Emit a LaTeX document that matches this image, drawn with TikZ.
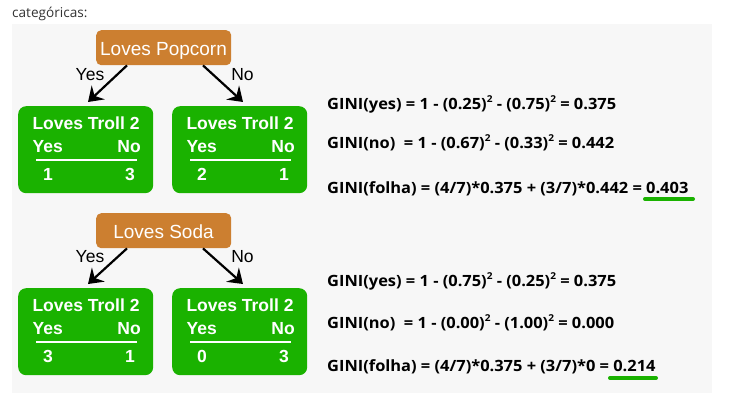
\documentclass[tikz,border=0pt]{standalone}
\usepackage{fontspec}
\setmainfont{Liberation Sans}
\newfontfamily\formfont[FakeStretch=1.06]{Open Sans}
\newfontfamily\capfont{Open Sans}
\usetikzlibrary{arrows.meta}
\definecolor{panelgray}{HTML}{F7F7F7}
\definecolor{leafgreen}{RGB}{26,178,0}
\definecolor{rootorange}{RGB}{204,127,48}
\definecolor{captiongray}{HTML}{333333}
\tikzset{
  leaf/.style={fill=leafgreen, rounded corners=8pt, inner sep=0pt, anchor=north west, minimum width=135pt, minimum height=87pt},
  root/.style={fill=rootorange, rounded corners=5pt, inner sep=0pt, anchor=north west, minimum width=135pt, minimum height=35pt},
  roottext/.style={text=white, inner sep=0pt, anchor=base, font=\fontsize{19}{19}\selectfont},
  leaftitle/.style={text=white, inner sep=0pt, font=\bfseries\fontsize{17.5}{17.5}\selectfont},
  leafnum/.style={text=white, inner sep=0pt, anchor=base, font=\bfseries\fontsize{17.5}{17.5}\selectfont},
  edgelabel/.style={inner sep=0pt, font=\fontsize{17.5}{17.5}\selectfont},
  arr/.style={line width=2.2pt, -{Stealth[length=14pt, width=19pt, inset=5pt]}},
  formula/.style={inner sep=0pt, anchor=base west, font=\formfont\bfseries\fontsize{15.5}{15.5}\selectfont},
  uline/.style={leafgreen, line width=4pt, line cap=round},
}
\newcommand\sqd{\raisebox{0.42em}{\fontsize{9.5}{9.5}\selectfont 2}}
\newcommand\leafbox[5]{%
  \node[leaf] (#1) at (#2,#3) {};
  \node[leaftitle, anchor=base] (#1t) at (#2+68,#3+23) {Loves Troll 2};
  \node[leaftitle, anchor=base west] (#1y) at (#2+14.5,#3+46) {Yes};
  \node[leaftitle, anchor=base east] (#1n) at (#2+123,#3+46) {No};
  \draw[white, line width=2pt] (#2+18,#3+53.5) -- (#2+119,#3+53.5);
  \node[leafnum] (#1a) at (#2+30,#3+74) {#4};
  \node[leafnum] (#1b) at (#2+112,#3+74) {#5};
}
\begin{document}
\begin{tikzpicture}[x=1pt, y=-1pt]
\useasboundingbox (0,0) rectangle (733,418);
\fill[panelgray] (12,24) rectangle (712,393);
\node[inner sep=0pt, anchor=base west, text=captiongray, font=\capfont\fontsize{13.6}{13.6}\selectfont] (cap) at (12,17) {categóricas:};

% ---- tree 1 ----
\node[root] (p1) at (96,30) {};
\node[roottext] (p1t) at (163.5,55) {Loves Popcorn};
\leafbox{l1}{18}{106}{1}{3}
\leafbox{r1}{172}{106}{2}{1}
\coordinate (a1s) at ([xshift=31pt]p1.south west);
\coordinate (a1e) at ([xshift=70pt,yshift=4pt]l1.north west);
\coordinate (b1s) at ([xshift=107pt]p1.south west);
\coordinate (b1e) at ([xshift=71pt,yshift=4pt]r1.north west);
\draw[arr] (a1s) -- (a1e);
\draw[arr] (b1s) -- (b1e);
\node[edgelabel] (y1) at (90,75) {Yes};
\node[edgelabel] (n1) at (242.5,75) {No};

% ---- tree 2 ----
\node[root] (p2) at (96,213) {};
\node[roottext] (p2t) at (163.5,238) {Loves Soda};
\leafbox{l2}{18}{288}{3}{1}
\leafbox{r2}{172}{288}{0}{3}
\coordinate (a2s) at ([xshift=31pt]p2.south west);
\coordinate (a2e) at ([xshift=70pt,yshift=4pt]l2.north west);
\coordinate (b2s) at ([xshift=107pt]p2.south west);
\coordinate (b2e) at ([xshift=71pt,yshift=4pt]r2.north west);
\draw[arr] (a2s) -- (a2e);
\draw[arr] (b2s) -- (b2e);
\node[edgelabel] (y2) at (90,257) {Yes};
\node[edgelabel] (n2) at (242.5,257) {No};

% ---- formulas ----
\node[formula] (f1) at (327,109) {GINI(yes) = 1 - (0.25)\sqd{} - (0.75)\sqd{} = 0.375};
\node[formula] (f2) at (327,148.3) {GINI(no)\ \ = 1 - (0.67)\sqd{} - (0.33)\sqd{} = 0.442};
\node[formula] (f3) at (327,193) {GINI(folha) = (4/7)*0.375 + (3/7)*0.442 = 0.403};
\draw[uline] (645,199) -- (693,199);

\node[formula] (g1) at (327,286) {GINI(yes) = 1 - (0.75)\sqd{} - (0.25)\sqd{} = 0.375};
\node[formula] (g2) at (327,328.3) {GINI(no)\ \ = 1 - (0.00)\sqd{} - (1.00)\sqd{} = 0.000};
\node[formula] (g3) at (327,371.7) {GINI(folha) = (4/7)*0.375 + (3/7)*0 = 0.214};
\draw[uline] (610,378) -- (656,378);
\end{tikzpicture}
\end{document}
